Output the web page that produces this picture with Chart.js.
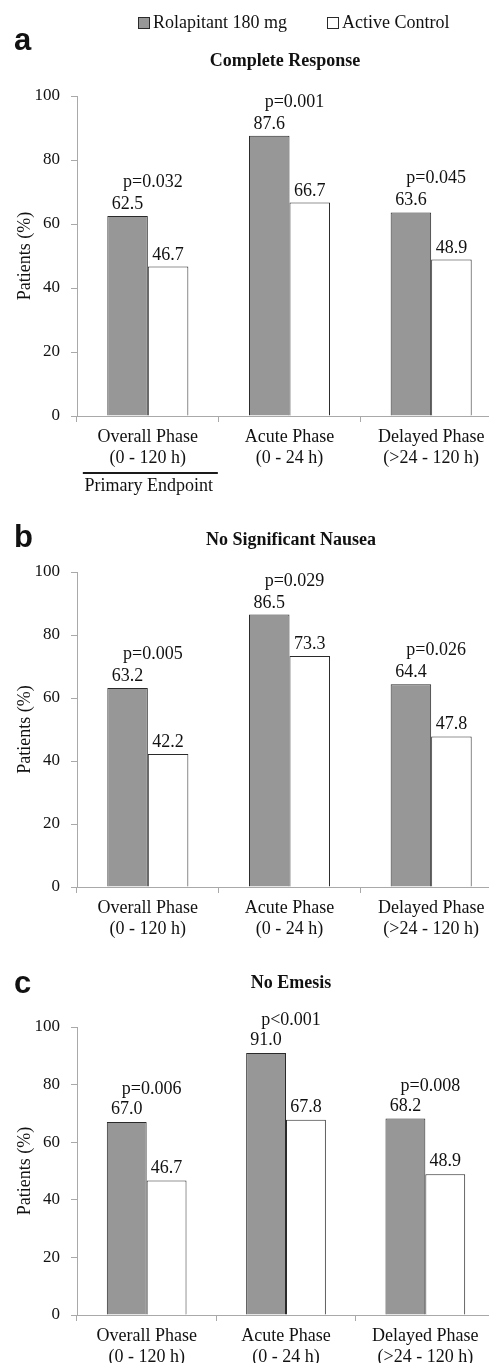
<!DOCTYPE html>
<html><head><meta charset="utf-8">
<script src="https://cdn.jsdelivr.net/npm/chart.js@4.4.1/dist/chart.umd.min.js"></script>
<style>
html,body{margin:0;padding:0;background:#fff;overflow:hidden;}
#wrap{position:relative;width:489px;height:1363px;overflow:hidden;background:#fff;}
canvas{position:absolute;left:0;}
</style></head><body>
<div id="wrap">
<canvas id="ca" width="505" height="500" style="top:0px"></canvas>
<canvas id="cb" width="505" height="460" style="top:500px"></canvas>
<canvas id="cc" width="505" height="433" style="top:930px"></canvas>
</div>
<script>
// ---- data ----
const categories = [["Overall Phase","(0 - 120 h)"],["Acute Phase","(0 - 24 h)"],["Delayed Phase","(>24 - 120 h)"]];
const seriesNames = ["Rolapitant 180 mg","Active Control"];
const yTicks = [0,20,40,60,80,100];
const yTitle = "Patients (%)";

const crTitle = "Complete Response";
const crRola = [62.5, 87.6, 63.6];
const crCtrl = [46.7, 66.7, 48.9];
const crP = ["p=0.032","p=0.001","p=0.045"];

const nsnTitle = "No Significant Nausea";
const nsnRola = [63.2, 86.5, 64.4];
const nsnCtrl = [42.2, 73.3, 47.8];
const nsnP = ["p=0.005","p=0.029","p=0.026"];

const neTitle = "No Emesis";
const neRola = [67.0, 91.0, 68.2];
const neCtrl = [46.7, 67.8, 48.9];
const neP = ["p=0.006","p<0.001","p=0.008"];

const primaryLabel = "Primary Endpoint";

// ---- styling ----
const SERIF = "'Liberation Serif','Times New Roman',serif";
const SANS = "'Liberation Sans',Arial,sans-serif";
const TXT = '#111111';
const AXIS = '#a9a9a9';
const GRAY = '#979797';
const EDGE = '#2a2a2a';
Chart.defaults.font.family = SERIF;
Chart.defaults.color = TXT;

const annot = {
  id: 'annot',
  afterDraw(chart, args, o) {
    const ctx = chart.ctx, xs = chart.scales.x;
    ctx.save();
    ctx.fillStyle = TXT;
    ctx.textAlign = 'center';
    ctx.textBaseline = 'alphabetic';
    ctx.font = "18px " + SERIF;
    chart.data.datasets.forEach((ds, i) => {
      chart.getDatasetMeta(i).data.forEach((bar, j) => {
        ctx.fillText(ds.data[j].toFixed(1), bar.x, bar.y - o.labelGap);
      });
    });
    o.pvals.forEach((p, j) => {
      const top = Math.min(...chart.data.datasets.map((d, i) => chart.getDatasetMeta(i).data[j].y));
      ctx.fillText(p, xs.getPixelForValue(j) + 5, top - o.labelGap - o.pGap);
    });
    ctx.font = "bold 18px " + SERIF;
    ctx.fillText(o.title, o.titleX, o.titleY);
    ctx.font = "bold 31px " + SANS;
    ctx.textAlign = 'left';
    ctx.fillText(o.letter, 14, o.letterY);
    if (o.legend) {
      ctx.font = "18px " + SERIF;
      const xsL = [138, 327];
      chart.data.datasets.forEach((ds, i) => {
        const x = xsL[i];
        ctx.fillStyle = ds.backgroundColor;
        ctx.fillRect(x, 17, 12, 12);
        ctx.strokeStyle = EDGE; ctx.lineWidth = 1;
        ctx.strokeRect(x + 0.5, 17.5, 11, 11);
        ctx.fillStyle = TXT;
        ctx.fillText(ds.label, x + 15, 28);
      });
    }
    if (o.endpoint) {
      const cx = xs.getPixelForValue(0);
      ctx.strokeStyle = '#1a1a1a'; ctx.lineWidth = 2;
      ctx.beginPath(); ctx.moveTo(cx - 65, 473); ctx.lineTo(cx + 70, 473); ctx.stroke();
      ctx.font = "18px " + SERIF; ctx.textAlign = 'center';
      ctx.fillText(o.endpoint, cx + 1, 491);
    }
    ctx.restore();
  }
};

function makeChart(id, rola, ctrl, opt) {
  return new Chart(document.getElementById(id), {
    type: 'bar',
    data: {
      labels: categories,
      datasets: [
        { label: seriesNames[0], data: rola, backgroundColor: GRAY, borderColor: EDGE, borderWidth: 1, borderSkipped: 'bottom' },
        { label: seriesNames[1], data: ctrl, backgroundColor: '#ffffff', borderColor: EDGE, borderWidth: 1, borderSkipped: 'bottom' }
      ]
    },
    options: {
      responsive: false,
      animation: false,
      devicePixelRatio: 1,
      layout: { padding: { top: opt.top, right: opt.right, left: 0, bottom: 0 } },
      datasets: { bar: { categoryPercentage: 0.572, barPercentage: 1.0 } },
      plugins: {
        legend: { display: false },
        tooltip: { enabled: false },
        title: { display: false },
        annot: opt.annot
      },
      scales: {
        x: {
          offset: true,
          grid: { display: true, drawOnChartArea: false, drawTicks: true, tickLength: 6, color: AXIS, offset: true },
          border: { display: true, color: AXIS, width: 1 },
          ticks: { font: { size: 18, lineHeight: 1.2 }, color: TXT, padding: 4, maxRotation: 0, autoSkip: false },
          afterFit: s => { s.height = opt.xh; }
        },
        y: {
          min: 0, max: 100,
          afterBuildTicks: s => { s.ticks = yTicks.map(v => ({ value: v })); },
          grid: { display: true, drawOnChartArea: false, drawTicks: true, tickLength: 6, color: AXIS },
          border: { display: true, color: AXIS, width: 1 },
          ticks: { font: { size: 17 }, color: TXT, padding: 11 },
          title: { display: true, text: yTitle, font: { size: 18 }, color: TXT, padding: { top: 14, bottom: 0 } },
          afterFit: s => { s.width = 77; }
        }
      }
    },
    plugins: [annot]
  });
}

makeChart('ca', crRola, crCtrl, { top: 96, right: 3, xh: 84,
  annot: { title: crTitle, titleX: 285, titleY: 66, letter: 'a', letterY: 50, pvals: crP, labelGap: 7, pGap: 22, legend: true, endpoint: primaryLabel } });
makeChart('cb', nsnRola, nsnCtrl, { top: 72, right: 3, xh: 73,
  annot: { title: nsnTitle, titleX: 291, titleY: 45, letter: 'b', letterY: 47, pvals: nsnP, labelGap: 7, pGap: 22 } });
makeChart('cc', neRola, neCtrl, { top: 97, right: 10, xh: 48,
  annot: { title: neTitle, titleX: 291, titleY: 58, letter: 'c', letterY: 63, pvals: neP, labelGap: 8, pGap: 20 } });
</script>
</body></html>
